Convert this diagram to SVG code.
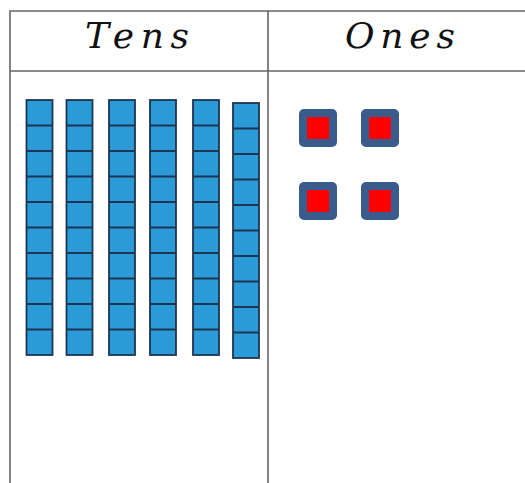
<svg xmlns="http://www.w3.org/2000/svg" width="525" height="483" viewBox="0 0 525 483">
<defs>
<style>
.grid{stroke:#666;stroke-width:1.6;fill:none}
.hdr{font-family:"DejaVu Serif","Liberation Serif",serif;font-style:italic;font-size:36px;fill:#111}
.rod{fill:#2b9bd8;stroke:#1d3550;stroke-width:1.8}
.div{stroke:#1d3550;stroke-width:1.8}
.one{fill:#3a5c8c}
.core{fill:#ff0000}
</style>
<g id="rodUnits">
<rect class="rod" x="0" y="0" width="26" height="255"/>
<path class="div" d="M0 25.5H26M0 51H26M0 76.5H26M0 102H26M0 127.5H26M0 153H26M0 178.5H26M0 204H26M0 229.5H26"/>
</g>
<g id="unitCube">
<rect class="one" x="0" y="0" width="38" height="38" rx="5"/>
<rect class="core" x="8" y="8" width="22" height="22"/>
</g>
</defs>
<rect width="525" height="483" fill="#fff"/>
<g id="table">
<path class="grid" d="M10 483V11H525M10 71H525M268 11V483"/>
<text class="hdr" x="137" y="48" text-anchor="middle" textLength="104" lengthAdjust="spacing">Tens</text>
<text class="hdr" x="400" y="48" text-anchor="middle" textLength="110" lengthAdjust="spacing">Ones</text>
</g>
<g id="tens">
<use href="#rodUnits" x="26.5" y="100"/>
<use href="#rodUnits" x="66.5" y="100"/>
<use href="#rodUnits" x="109" y="100"/>
<use href="#rodUnits" x="150" y="100"/>
<use href="#rodUnits" x="193" y="100"/>
<use href="#rodUnits" x="233" y="103"/>
</g>
<g id="ones">
<use href="#unitCube" x="299" y="109"/>
<use href="#unitCube" x="361" y="109"/>
<use href="#unitCube" x="299" y="182"/>
<use href="#unitCube" x="361" y="182"/>
</g>
</svg>
